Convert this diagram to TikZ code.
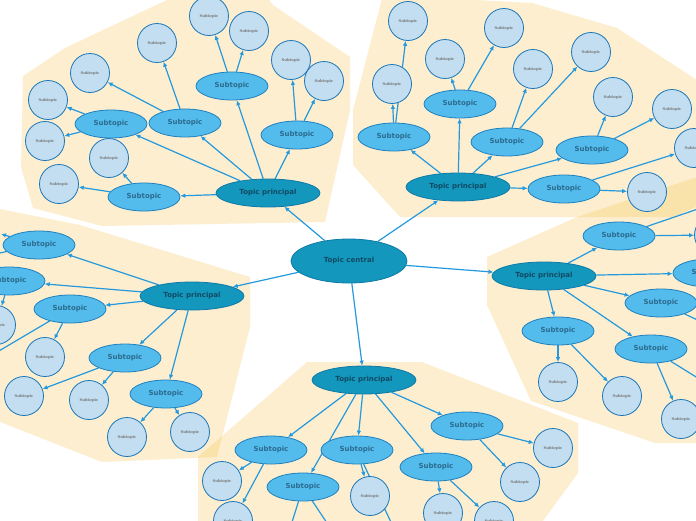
\documentclass[tikz,border=0pt]{standalone}
\usepackage{fontspec}
\newfontfamily\lblfont{DejaVu Sans}
\newfontfamily\leaffont{DejaVu Serif}
\usetikzlibrary{shapes.geometric,arrows.meta}
\definecolor{cream}{RGB}{247,191,67}
\definecolor{tealfill}{RGB}{20,151,188}
\definecolor{tealborder}{RGB}{14,121,166}
\definecolor{tealtext}{RGB}{16,74,99}
\definecolor{subfill}{RGB}{84,188,236}
\definecolor{subborder}{RGB}{30,128,190}
\definecolor{subtext}{RGB}{43,107,142}
\definecolor{leaffill}{RGB}{195,222,241}
\definecolor{leafborder}{RGB}{26,118,184}
\definecolor{leaftext}{RGB}{120,120,120}
\definecolor{edgeblue}{RGB}{36,153,221}
\pgfdeclarelayer{bg}
\pgfdeclarelayer{edges}
\pgfsetlayers{bg,edges,main}
\tikzset{
  centralnode/.style={ellipse, draw=tealborder, fill=tealfill, line width=0.8pt,
    minimum width=116pt, minimum height=44pt, inner sep=0pt,
    font=\lblfont\bfseries\fontsize{7}{8}\selectfont, text=tealtext},
  principal/.style={centralnode, minimum width=104pt, minimum height=28pt},
  subnode/.style={ellipse, draw=subborder, fill=subfill, line width=0.8pt,
    minimum width=72pt, minimum height=28pt, inner sep=0pt,
    font=\lblfont\bfseries\fontsize{7}{8}\selectfont, text=subtext},
  leaf/.style={circle, draw=leafborder, fill=leaffill, line width=0.8pt,
    minimum size=39pt, inner sep=0pt,
    font=\leaffont\bfseries\fontsize{3.8}{4}\selectfont, text=leaftext},
  conn/.style={draw=edgeblue, line width=1.2pt, -{Latex[length=5pt,width=4.5pt]}},
  zone/.style={fill=cream, fill opacity=0.25},
}
\begin{document}
\begin{tikzpicture}[x=1pt,y=-1pt]
\useasboundingbox (0,0) rectangle (696,520);
\clip (0,0) rectangle (696,520);
% zones
\begin{pgfonlayer}{bg}
\fill[white] (0,0) rectangle (696,520);
\fill[zone] (23,76) -- (65,48) -- (167,0) -- (190,-5) -- (265,-5) -- (273,5) -- (350,57) -- (350,110) -- (325,222) -- (102,226) -- (33,208) -- (21,167) -- cycle;
\fill[zone] (383,-5) -- (532,3) -- (617,28) -- (700,82) -- (700,205) -- (673,217) -- (400,217) -- (353,165) -- (353,110) -- cycle;
\fill[zone] (487,257) -- (577,217) -- (700,176) -- (700,443) -- (655,443) -- (531,401) -- (487,305) -- cycle;
\fill[zone] (-5,208) -- (80,225) -- (250,277) -- (250,327) -- (217,457) -- (102,462) -- (-5,420) -- cycle;
\fill[zone] (307,362) -- (422,362) -- (578,423) -- (578,473) -- (540,525) -- (198,525) -- (198,457) -- cycle;
\end{pgfonlayer}
% central
\node[centralnode] (c) at (349,261) {Topic central};
% top-left cluster
\node[principal] (tpA) at (268,193) {Topic principal};
\node[subnode] (a1) at (232,86) {Subtopic};
\node[subnode] (a2) at (185,123) {Subtopic};
\node[subnode] (a3) at (111,124) {Subtopic};
\node[subnode] (a4) at (297,135) {Subtopic};
\node[subnode] (a5) at (144,197) {Subtopic};
\node[leaf] (a1x) at (209,16) {Subtopic};
\node[leaf] (a1y) at (249,31) {Subtopic};
\node[leaf] (a2x) at (157,43) {Subtopic};
\node[leaf] (a2y) at (90,73) {Subtopic};
\node[leaf] (a3x) at (48,100) {Subtopic};
\node[leaf] (a3y) at (45,141) {Subtopic};
\node[leaf] (a4x) at (291,60) {Subtopic};
\node[leaf] (a4y) at (324,81) {Subtopic};
\node[leaf] (a5x) at (109,158) {Subtopic};
\node[leaf] (a5y) at (59,184) {Subtopic};
% top-right cluster
\node[principal] (tpB) at (458,187) {Topic principal};
\node[subnode] (b1) at (394,137) {Subtopic};
\node[subnode] (b2) at (460,104) {Subtopic};
\node[subnode] (b3) at (507,142) {Subtopic};
\node[subnode] (b4) at (592,150) {Subtopic};
\node[subnode] (b5) at (564,189) {Subtopic};
\node[leaf] (b1x) at (392,84) {Subtopic};
\node[leaf] (b1y) at (408,21) {Subtopic};
\node[leaf] (b2x) at (445,59) {Subtopic};
\node[leaf] (b2y) at (504,28) {Subtopic};
\node[leaf] (b3x) at (533,69) {Subtopic};
\node[leaf] (b3y) at (591,52) {Subtopic};
\node[leaf] (b4x) at (613,97) {Subtopic};
\node[leaf] (b4y) at (672,109) {Subtopic};
\node[leaf] (b5x) at (694,148) {Subtopic};
\node[leaf] (b5y) at (647,192) {Subtopic};
% right cluster
\node[principal] (tpC) at (544,276) {Topic principal};
\node[subnode] (c1) at (619,236) {Subtopic};
\node[subnode] (c2) at (709,273) {Subtopic};
\node[subnode] (c3) at (661,303) {Subtopic};
\node[subnode] (c4) at (558,331) {Subtopic};
\node[subnode] (c5) at (651,349) {Subtopic};
\node[leaf] (c1x) at (714,235) {Subtopic};
\node[leaf] (c4x) at (558,382) {Subtopic};
\node[leaf] (c4y) at (622,396) {Subtopic};
\node[leaf] (c5x) at (681,419) {Subtopic};
\coordinate (c1o) at (730,198);
\coordinate (c3o) at (730,335);
\coordinate (c5o) at (730,398);
% left cluster
\node[principal] (tpD) at (192,296) {Topic principal};
\node[subnode] (d1) at (39,245) {Subtopic};
\node[subnode] (d2) at (9,281) {Subtopic};
\node[subnode] (d3) at (70,309) {Subtopic};
\node[subnode] (d4) at (125,358) {Subtopic};
\node[subnode] (d5) at (166,394) {Subtopic};
\node[leaf] (d2x) at (-4,325) {Subtopic};
\node[leaf] (d3x) at (45,357) {Subtopic};
\node[leaf] (d4x) at (24,396) {Subtopic};
\node[leaf] (d4y) at (89,400) {Subtopic};
\node[leaf] (d5x) at (127,437) {Subtopic};
\node[leaf] (d5y) at (190,432) {Subtopic};
\coordinate (d1o) at (1,234);
\coordinate (d1p) at (-25,258);
\coordinate (d3o) at (-30,368);
% bottom cluster
\node[principal] (tpE) at (364,380) {Topic principal};
\node[subnode] (e1) at (271,450) {Subtopic};
\node[subnode] (e2) at (357,450) {Subtopic};
\node[subnode] (e3) at (303,487) {Subtopic};
\node[subnode] (e4) at (436,467) {Subtopic};
\node[subnode] (e5) at (467,426) {Subtopic};
\node[leaf] (e1x) at (222,481) {Subtopic};
\node[leaf] (e1y) at (233,521) {Subtopic};
\node[leaf] (e2x) at (370,496) {Subtopic};
\node[leaf] (e4x) at (443,513) {Subtopic};
\node[leaf] (e4y) at (494,521) {Subtopic};
\node[leaf] (e5x) at (520,482) {Subtopic};
\node[leaf] (e5y) at (553,448) {Subtopic};
\coordinate (e2o) at (397,535);
\coordinate (e3o) at (288,535);
\coordinate (e3p) at (335,535);
% connectors
\begin{pgfonlayer}{edges}
\foreach \s/\t in {c/tpA, c/tpB, c/tpC, c/tpD, c/tpE,
  tpA/a1, tpA/a2, tpA/a3, tpA/a4, tpA/a5,
  a1/a1x, a1/a1y, a2/a2x, a2/a2y, a3/a3x, a3/a3y, a4/a4x, a4/a4y, a5/a5x, a5/a5y,
  tpB/b1, tpB/b2, tpB/b3, tpB/b4, tpB/b5,
  b1/b1x, b1/b1y, b2/b2x, b2/b2y, b3/b3x, b3/b3y, b4/b4x, b4/b4y, b5/b5x, b5/b5y,
  tpC/c1, tpC/c2, tpC/c3, tpC/c4, tpC/c5,
  c1/c1x, c1/c1o, c3/c3o, c4/c4x, c4/c4y, c5/c5x, c5/c5o,
  tpD/d1, tpD/d2, tpD/d3, tpD/d4, tpD/d5,
  d1/d1o, d1/d1p, d2/d2x, d3/d3x, d3/d3o, d4/d4x, d4/d4y, d5/d5x, d5/d5y,
  tpE/e1, tpE/e2, tpE/e3, tpE/e4, tpE/e5,
  e1/e1x, e1/e1y, e2/e2x, e2/e2o, e3/e3o, e3/e3p, e4/e4x, e4/e4y, e5/e5x, e5/e5y}
  \draw[conn] (\s) -- (\t);
\end{pgfonlayer}
\end{tikzpicture}
\end{document}
